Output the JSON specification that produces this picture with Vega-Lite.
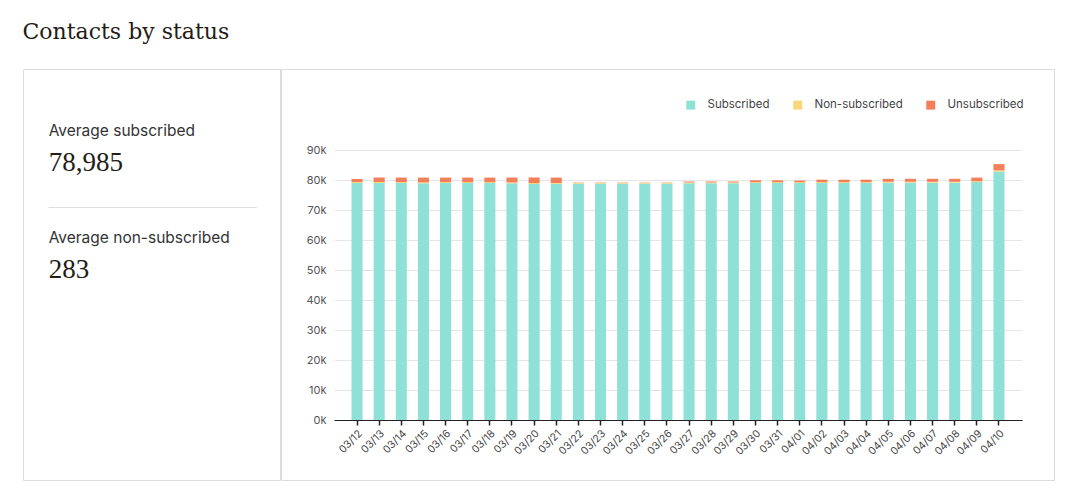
{
  "$schema": "https://vega.github.io/schema/vega-lite/v6.json",
  "padding": {"left": 22, "top": 20, "right": 14, "bottom": 18},
  "title": {
    "text": "Contacts by status",
    "anchor": "start",
    "font": "DejaVu Serif",
    "fontSize": 22,
    "fontWeight": "normal",
    "color": "#241c15",
    "offset": 25
  },
  "spacing": -2,
  "resolve": {"legend": {"color": "independent"}},
  "hconcat": [
    {
      "width": 257,
      "height": 411,
      "data": {
        "values": [
          {"stat": "Average subscribed", "value": "78,985"},
          {"stat": "Average non-subscribed", "value": "283"}
        ]
      },
      "encoding": {
        "x": {"datum": 1, "type": "quantitative", "scale": {"domain": [0, 10]}, "axis": null},
        "y": {
          "field": "stat",
          "type": "nominal",
          "sort": null,
          "scale": {"type": "band", "range": [8, 222], "paddingInner": 0, "paddingOuter": 0},
          "axis": null
        }
      },
      "layer": [
        {
          "mark": {"type": "text", "align": "left", "baseline": "middle", "font": "Inter", "fontSize": 15.5, "color": "#333"},
          "encoding": {"text": {"field": "stat"}}
        },
        {
          "mark": {"type": "text", "align": "left", "baseline": "middle", "dy": 32, "font": "Liberation Serif", "fontSize": 27, "color": "#241c15"},
          "encoding": {"text": {"field": "value"}}
        },
        {
          "data": {"values": [{}]},
          "mark": {"type": "rule", "color": "#dedede", "strokeWidth": 1},
          "encoding": {
            "x": {"datum": 1, "type": "quantitative"},
            "x2": {"datum": 9.1},
            "y": {"datum": "Average non-subscribed", "type": "nominal", "bandPosition": 0.22}
          }
        }
      ]
    },
    {
      "width": 773,
      "height": 411,
      "data": {
        "values": [
          {"date": "03/12", "Subscribed": 79000, "Non-subscribed": 300, "Unsubscribed": 1000},
          {"date": "03/13", "Subscribed": 79000, "Non-subscribed": 300, "Unsubscribed": 1500},
          {"date": "03/14", "Subscribed": 79000, "Non-subscribed": 300, "Unsubscribed": 1500},
          {"date": "03/15", "Subscribed": 78900, "Non-subscribed": 300, "Unsubscribed": 1600},
          {"date": "03/16", "Subscribed": 79000, "Non-subscribed": 300, "Unsubscribed": 1500},
          {"date": "03/17", "Subscribed": 79000, "Non-subscribed": 300, "Unsubscribed": 1500},
          {"date": "03/18", "Subscribed": 79000, "Non-subscribed": 300, "Unsubscribed": 1500},
          {"date": "03/19", "Subscribed": 78900, "Non-subscribed": 300, "Unsubscribed": 1600},
          {"date": "03/20", "Subscribed": 78700, "Non-subscribed": 300, "Unsubscribed": 1800},
          {"date": "03/21", "Subscribed": 78700, "Non-subscribed": 300, "Unsubscribed": 1800},
          {"date": "03/22", "Subscribed": 78800, "Non-subscribed": 300, "Unsubscribed": 100},
          {"date": "03/23", "Subscribed": 78800, "Non-subscribed": 300, "Unsubscribed": 100},
          {"date": "03/24", "Subscribed": 78800, "Non-subscribed": 300, "Unsubscribed": 100},
          {"date": "03/25", "Subscribed": 78800, "Non-subscribed": 300, "Unsubscribed": 100},
          {"date": "03/26", "Subscribed": 78800, "Non-subscribed": 300, "Unsubscribed": 100},
          {"date": "03/27", "Subscribed": 78900, "Non-subscribed": 300, "Unsubscribed": 300},
          {"date": "03/28", "Subscribed": 78900, "Non-subscribed": 300, "Unsubscribed": 300},
          {"date": "03/29", "Subscribed": 78900, "Non-subscribed": 300, "Unsubscribed": 300},
          {"date": "03/30", "Subscribed": 79000, "Non-subscribed": 300, "Unsubscribed": 600},
          {"date": "03/31", "Subscribed": 79000, "Non-subscribed": 300, "Unsubscribed": 600},
          {"date": "04/01", "Subscribed": 79000, "Non-subscribed": 300, "Unsubscribed": 500},
          {"date": "04/02", "Subscribed": 79000, "Non-subscribed": 300, "Unsubscribed": 800},
          {"date": "04/03", "Subscribed": 79000, "Non-subscribed": 300, "Unsubscribed": 800},
          {"date": "04/04", "Subscribed": 79000, "Non-subscribed": 300, "Unsubscribed": 800},
          {"date": "04/05", "Subscribed": 79100, "Non-subscribed": 300, "Unsubscribed": 1000},
          {"date": "04/06", "Subscribed": 79100, "Non-subscribed": 300, "Unsubscribed": 1000},
          {"date": "04/07", "Subscribed": 79100, "Non-subscribed": 300, "Unsubscribed": 1000},
          {"date": "04/08", "Subscribed": 79100, "Non-subscribed": 300, "Unsubscribed": 1000},
          {"date": "04/09", "Subscribed": 79300, "Non-subscribed": 300, "Unsubscribed": 1200},
          {"date": "04/10", "Subscribed": 82800, "Non-subscribed": 400, "Unsubscribed": 2100}
        ]
      },
      "transform": [
        {"fold": ["Subscribed", "Non-subscribed", "Unsubscribed"], "as": ["status", "count"]},
        {"calculate": "indexof(['Subscribed', 'Non-subscribed', 'Unsubscribed'], datum.status)", "as": "stackOrder"}
      ],
      "mark": {"type": "bar"},
      "encoding": {
        "x": {
          "field": "date",
          "type": "ordinal",
          "sort": null,
          "title": null,
          "scale": {"range": [53, 741], "paddingInner": 0.5, "paddingOuter": 0.79},
          "axis": {
            "offset": -60,
            "labelAngle": -45,
            "labelFontSize": 10.5,
            "labelColor": "#444",
            "labelPadding": 3,
            "domainColor": "#222",
            "tickColor": "#222",
            "tickSize": 5,
            "tickWidth": 1.5
          }
        },
        "y": {
          "field": "count",
          "type": "quantitative",
          "stack": "zero",
          "title": null,
          "scale": {"domain": [0, 90000], "range": [351, 81], "nice": false},
          "axis": {
            "offset": -53,
            "values": [0, 10000, 20000, 30000, 40000, 50000, 60000, 70000, 80000, 90000],
            "labelExpr": "datum.value / 1000 + 'k'",
            "domain": false,
            "ticks": false,
            "labelPadding": 8,
            "labelFontSize": 11,
            "labelColor": "#555",
            "gridColor": "#e6e6e6"
          }
        },
        "order": {"field": "stackOrder", "type": "quantitative", "sort": "ascending"},
        "color": {
          "field": "status",
          "type": "nominal",
          "sort": ["Subscribed", "Non-subscribed", "Unsubscribed"],
          "scale": {
            "domain": ["Subscribed", "Non-subscribed", "Unsubscribed"],
            "range": ["#8fe0d6", "#fbd47c", "#f37f5a"]
          },
          "legend": {
            "title": null,
            "orient": "top-right",
            "offset": 30,
            "direction": "horizontal",
            "symbolType": "square",
            "symbolSize": 80,
            "symbolStrokeWidth": 0,
            "labelFontSize": 11.5,
            "labelColor": "#444",
            "labelOffset": 11,
            "columnPadding": 22
          }
        }
      }
    }
  ],
  "config": {
    "font": "Inter",
    "view": {"stroke": "#dcdcdc", "strokeWidth": 1},
    "axis": {"labelFont": "Inter"},
    "legend": {"labelFont": "Inter"}
  }
}
